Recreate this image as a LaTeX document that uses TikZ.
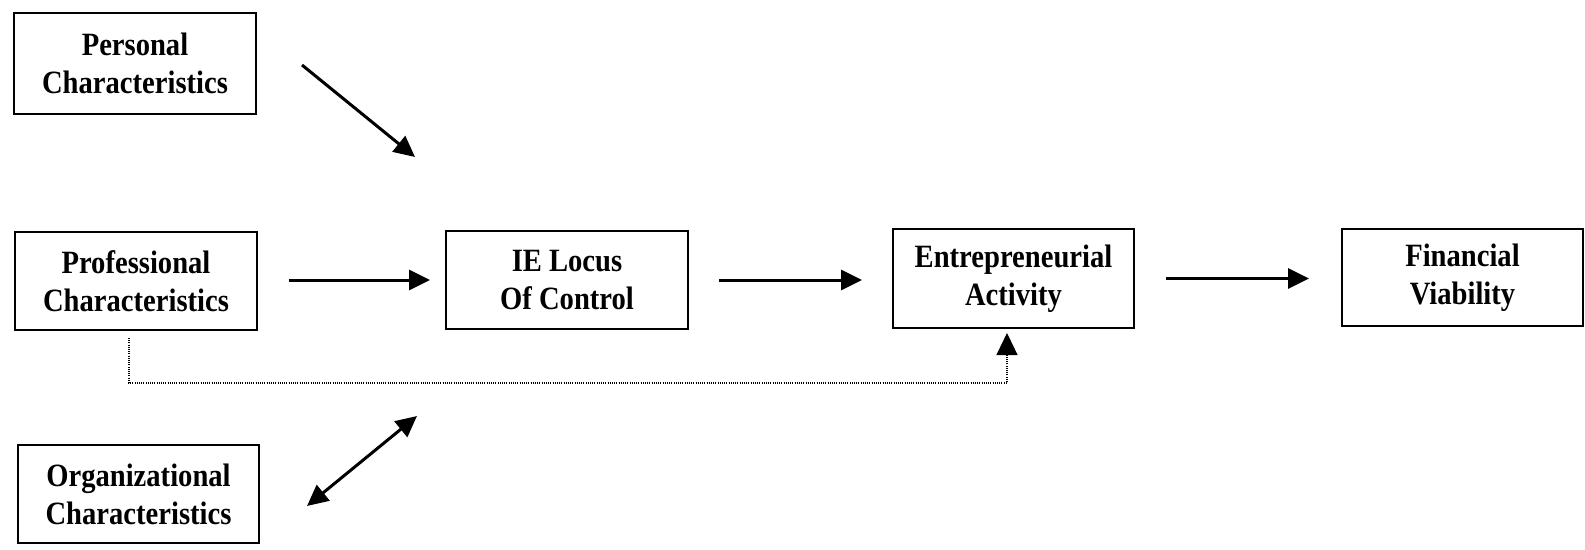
\documentclass[tikz,border=0pt]{standalone}
\usepackage{fontspec}
\setmainfont{Liberation Serif}[FakeStretch=0.88]
\usetikzlibrary{arrows.meta}
\begin{document}
\begin{tikzpicture}[x=1pt,y=-1pt,
  box/.style={draw,line width=2pt,inner sep=0pt,align=center,
    font=\bfseries\fontsize{32.5}{38}\selectfont},
  flow/.style={line width=3pt,-{Triangle[length=21pt,width=20pt]}},
  both/.style={line width=3pt,{Triangle[length=21pt,width=20pt]}-{Triangle[length=21pt,width=20pt]}},
  dotline/.style={line width=1.2pt,dash pattern=on 1pt off 1.2pt}]
\useasboundingbox (0,0) rectangle (1585,549);

% factor boxes
\node[box,minimum width=242pt,minimum height=101pt] (pers) at (135,63.5) {Personal\\Characteristics};
\node[box,minimum width=242pt,minimum height=98pt] (prof) at (136,281) {Professional\\Characteristics};
\node[box,minimum width=241pt,minimum height=98pt] (org) at (138.5,494) {Organizational\\Characteristics};

% main chain
\node[box,minimum width=242pt,minimum height=98pt] (ie) at (567,280) {IE Locus\\Of Control};
\node[box,minimum width=241pt,minimum height=99pt] (ent) at (1013.5,278.5) {Entrepreneurial\\Activity};
\node[box,minimum width=241pt,minimum height=97pt] (fin) at (1462.5,277.5) {Financial\\Viability};

% free-standing arrow ends
\coordinate (persA) at (302,65);
\coordinate (persB) at (415,157);
\coordinate (orgA) at (307,506);
\coordinate (orgB) at (417,416);
\coordinate (d1) at (129,338);
\coordinate (d2) at (129,383);
\coordinate (d3) at (1007,383);
\coordinate (d5) at (1007,356);
\coordinate (d4) at (1007,333);

\draw[flow] (persA) -- (persB);
\draw[both] (orgA) -- (orgB);

\draw[flow,shorten <=31pt,shorten >=15pt] (prof.east |- ie.west) -- (ie.west);
\draw[flow,shorten <=30pt,shorten >=30pt] (ie.east) -- (ent.west |- ie.east);
\draw[flow,shorten <=31pt,shorten >=32pt] (ent.east) -- (fin.west |- ent.east);

% dotted link from professional characteristics to entrepreneurial activity
\draw[dotline] (d1) -- (d2) -- (d3) -- (d5);
\draw[dotline,-{Triangle[length=22pt,width=21pt]}] (d5) -- (d4);
\end{tikzpicture}
\end{document}
